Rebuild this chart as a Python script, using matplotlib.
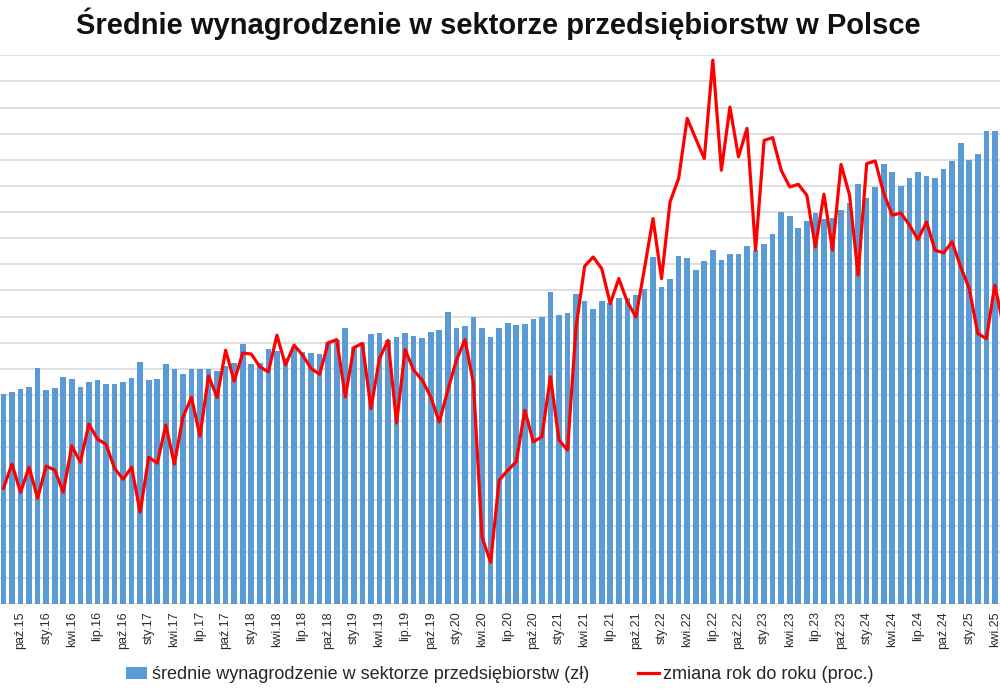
import numpy as np
import matplotlib
matplotlib.use("Agg")
import matplotlib.pyplot as plt
from matplotlib.lines import Line2D
from matplotlib.patches import Patch

# miesiace od sierpnia 2015 do maja 2025
start_year = 2015
start_month = 8
months_pl = ["sty", "lut", "mar", "kwi", "maj", "cze",
             "lip", "sie", "wrz", "paź", "lis", "gru"]

# srednie wynagrodzenie (zl)
wages = [4017, 4056, 4113, 4157, 4515, 4094, 4138, 4348, 4304, 4157,
         4253, 4285, 4214, 4214, 4253, 4323, 4635, 4279, 4310, 4586,
         4490, 4394, 4501, 4496, 4496, 4463, 4559, 4605, 4968, 4591,
         4605, 4884, 4840, 4700, 4922, 4815, 4796, 4777, 5012, 5050,
         5274, 4922, 4987, 5159, 5191, 5050, 5102, 5178, 5127, 5083,
         5209, 5242, 5592, 5286, 5318, 5485, 5274, 5114, 5286, 5381,
         5337, 5350, 5446, 5496, 5975, 5529, 5573, 5925, 5802, 5637,
         5802, 5752, 5848, 5848, 5911, 6020, 6632, 6059, 6217, 6663,
         6625, 6395, 6556, 6772, 6586, 6696, 6690, 6854, 6772, 6881,
         7072, 7505, 7428, 7187, 7327, 7474, 7365, 7378, 7537, 7665,
         8035, 7761, 7983, 8411, 8270, 8002, 8144, 8270, 8188, 8144,
         8316, 8475, 8813, 8494, 8609, 9054, 9043, 8650]

# zmiana rok do roku (%)
yoy = [3.38, 4.08, 3.26, 3.99, 3.09, 4.02, 3.91, 3.26, 4.61, 4.14,
       5.25, 4.81, 4.66, 3.96, 3.64, 3.99, 2.68, 4.28, 4.11, 5.22,
       4.08, 5.45, 6.03, 4.90, 6.65, 6.03, 7.40, 6.50, 7.32, 7.29,
       6.92, 6.77, 7.84, 6.97, 7.55, 7.26, 6.87, 6.70, 7.62, 7.71,
       6.04, 7.48, 7.60, 5.70, 7.16, 7.69, 5.28, 7.42, 6.82, 6.53,
       6.04, 5.31, 6.24, 7.11, 7.71, 6.43, 1.95, 1.22, 3.61, 3.90,
       4.15, 5.65, 4.73, 4.88, 6.63, 4.78, 4.49, 8.08, 9.85, 10.12,
       9.78, 8.76, 9.49, 8.81, 8.37, 9.78, 11.24, 9.49, 11.73, 12.41,
       14.16, 13.57, 12.99, 15.86, 12.65, 14.49, 13.04, 13.87, 10.32, 13.52,
       13.60, 12.65, 12.16, 12.24, 11.92, 10.41, 11.95, 10.32, 12.82, 11.92,
       9.59, 12.84, 12.92, 11.97, 11.34, 11.40, 11.05, 10.63, 11.14, 10.32,
       10.24, 10.56, 9.83, 9.20, 7.89, 7.74, 9.30, 8.10]

labels = []
for k in range(len(wages)):
    m = (start_month - 1 + k) % 12
    y = start_year + (start_month - 1 + k) // 12
    labels.append(f"{months_pl[m]}.{y % 100:02d}")

x = np.arange(len(wages))

fig = plt.figure(figsize=(10, 7), dpi=100)
ax = fig.add_axes([0.0, 0.137, 1.0, 0.784])

ax.bar(x, wages, width=0.66, color="#5b9bd5", zorder=2)
ax.set_ylim(0, 10500)
ax.set_yticks(np.arange(0, 10501, 500))
ax.yaxis.grid(True, color="#d9d9d9", linewidth=1.2, zorder=0)
ax.set_axisbelow(True)
ax.set_yticklabels([])
ax.tick_params(axis="y", length=0)
for s in ax.spines.values():
    s.set_visible(False)

ticks = x[2::3]
ax.set_xticks(ticks)
ax.set_xticklabels([labels[t] for t in ticks], rotation=90,
                   fontsize=9, color="#2b2b2b", family="Liberation Sans")
ax.tick_params(axis="x", length=0, pad=5)
ax.set_xlim(-0.4, 116.6)

ax2 = ax.twinx()
ax2.plot(x, yoy, color="red", linewidth=2.3, solid_joinstyle="round")
ax2.set_ylim(0, 16)
ax2.set_yticks([])
for s in ax2.spines.values():
    s.set_visible(False)

fig.suptitle("Średnie wynagrodzenie w sektorze przedsiębiorstw w Polsce",
             x=0.498, y=0.99, va="top", fontsize=21, fontweight="bold",
             family="Liberation Sans", color="#111111")

handles = [Patch(facecolor="#5b9bd5", edgecolor="none"),
           Line2D([], [], color="red", linewidth=2.3)]
fig.legend(handles,
           ["średnie wynagrodzenie w sektorze przedsiębiorstw (zł)",
            "zmiana rok do roku (proc.)"],
           loc="center", bbox_to_anchor=(0.5, 0.036), ncol=2, frameon=False,
           prop={"family": "Liberation Sans", "size": 13},
           handlelength=1.15, handletextpad=0.25, columnspacing=2.7,
           labelcolor="#262626")

fig.savefig("out.png", dpi=100)
